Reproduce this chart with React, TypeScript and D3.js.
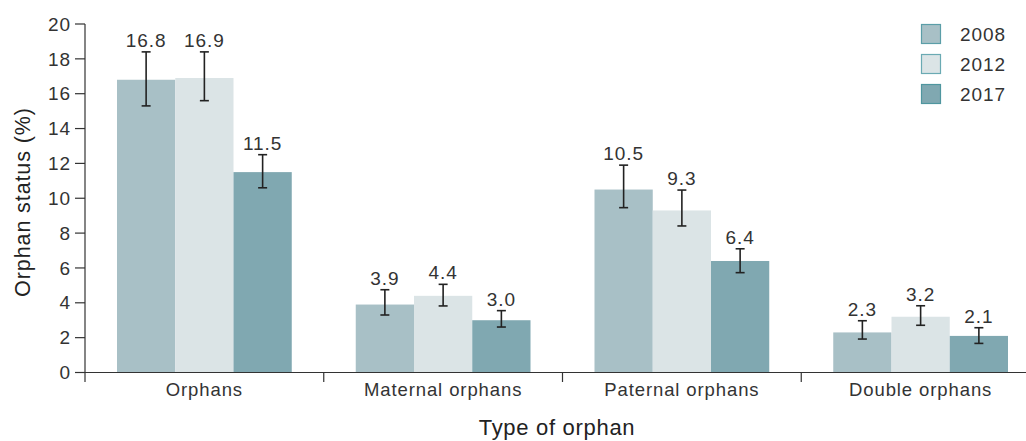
import React from "react";
import * as d3 from "d3";

const categories = ["Orphans", "Maternal orphans", "Paternal orphans", "Double orphans"];
const years = ["2008", "2012", "2017"];
const values2008 = [16.8, 3.9, 10.5, 2.3];
const values2012 = [16.9, 4.4, 9.3, 3.2];
const values2017 = [11.5, 3.0, 6.4, 2.1];
const low2008 = [15.3, 3.3, 9.46, 1.92];
const high2008 = [18.4, 4.75, 11.9, 2.97];
const low2012 = [15.6, 3.82, 8.41, 2.71];
const high2012 = [18.4, 5.06, 10.47, 3.83];
const low2017 = [10.6, 2.61, 5.73, 1.67];
const high2017 = [12.5, 3.55, 7.1, 2.57];
const yTicks = [0, 2, 4, 6, 8, 10, 12, 14, 16, 18, 20];
const colors = ["#a8c0c6", "#dbe4e6", "#80a8b1"];
const legendStroke = ["#5b9ea8", "#6aaab3", "#4f969f"];

const series = [
  { values: values2008, low: low2008, high: high2008 },
  { values: values2012, low: low2012, high: high2012 },
  { values: values2017, low: low2017, high: high2017 },
];

export default function App() {
  const W = 1026, H = 441;
  const x0 = 85, x1 = 1040;
  const y = d3.scaleLinear().domain([0, 20]).range([372.5, 24]);
  const xBand = d3.scaleBand().domain(categories).range([x0, x1]).paddingInner(0).paddingOuter(0);
  const bw = xBand.bandwidth();
  const inner = d3.scaleBand().domain(years).range([32, bw - 32]);
  const font = "'Liberation Sans', Arial, Helvetica, sans-serif";
  const textColor = "#333";
  const axisColor = "#333";
  const ls = 0.9;
  const boundaries = [...categories.map((c) => xBand(c) as number)];

  return (
    <svg width={W} height={H} style={{ position: "absolute", left: 0, top: 0, background: "#fff" }} fontFamily={font}>
      {series.map((s, si) =>
        categories.map((c, ci) => {
          const bx = (xBand(c) as number) + (inner(years[si]) as number);
          const w = inner.bandwidth();
          return (
            <rect key={`b${si}-${ci}`} x={bx} y={y(s.values[ci])} width={w} height={y(0) - y(s.values[ci])} fill={colors[si]} />
          );
        })
      )}
      {series.map((s, si) =>
        categories.map((c, ci) => {
          const cx = (xBand(c) as number) + (inner(years[si]) as number) + inner.bandwidth() / 2;
          const yt = y(s.high[ci]);
          const yb = y(s.low[ci]);
          return (
            <g key={`e${si}-${ci}`}>
              <line x1={cx} x2={cx} y1={yt} y2={yb} stroke="#222" strokeWidth={1.6} />
              <line x1={cx - 4.5} x2={cx + 4.5} y1={yt} y2={yt} stroke="#222" strokeWidth={1.6} />
              <line x1={cx - 4.5} x2={cx + 4.5} y1={yb} y2={yb} stroke="#222" strokeWidth={1.6} />
              <text x={cx} y={yt - 5} textAnchor="middle" fontSize={19} letterSpacing={ls} fill={textColor}>
                {s.values[ci].toFixed(1)}
              </text>
            </g>
          );
        })
      )}
      <line x1={x0} x2={x0} y1={y(20)} y2={382} stroke={axisColor} strokeWidth={1.2} />
      {yTicks.map((t) => (
        <g key={`yt${t}`}>
          <line x1={x0 - 10} x2={x0} y1={y(t)} y2={y(t)} stroke={axisColor} strokeWidth={1.2} />
          <text x={x0 - 14} y={y(t)} dy="0.35em" textAnchor="end" fontSize={19} letterSpacing={ls} fill={textColor}>
            {t}
          </text>
        </g>
      ))}
      <line x1={x0} x2={x1} y1={y(0)} y2={y(0)} stroke={axisColor} strokeWidth={1.2} />
      {boundaries.slice(1).map((b, i) => (
        <line key={`xt${i}`} x1={b} x2={b} y1={y(0)} y2={382} stroke={axisColor} strokeWidth={1.2} />
      ))}
      {categories.map((c) => (
        <text key={`xl${c}`} x={(xBand(c) as number) + bw / 2} y={396} textAnchor="middle" fontSize={18.5} letterSpacing={ls} fill={textColor}>
          {c}
        </text>
      ))}
      <text x={557} y={435} textAnchor="middle" fontSize={22} letterSpacing={0.7} fill="#222">
        Type of orphan
      </text>
      <text transform={`translate(30, 202) rotate(-90)`} textAnchor="middle" fontSize={21.5} letterSpacing={0.9} fill="#222">
        Orphan status (%)
      </text>
      {years.map((yr, i) => (
        <g key={`lg${yr}`} transform={`translate(921, ${24 + i * 30})`}>
          <rect x={0.5} y={0.5} width={19} height={19} fill={colors[i]} stroke={legendStroke[i]} strokeWidth={1.2} />
          <text x={39} y={10} dy="0.35em" fontSize={19} letterSpacing={ls} fill={textColor}>
            {yr}
          </text>
        </g>
      ))}
    </svg>
  );
}
